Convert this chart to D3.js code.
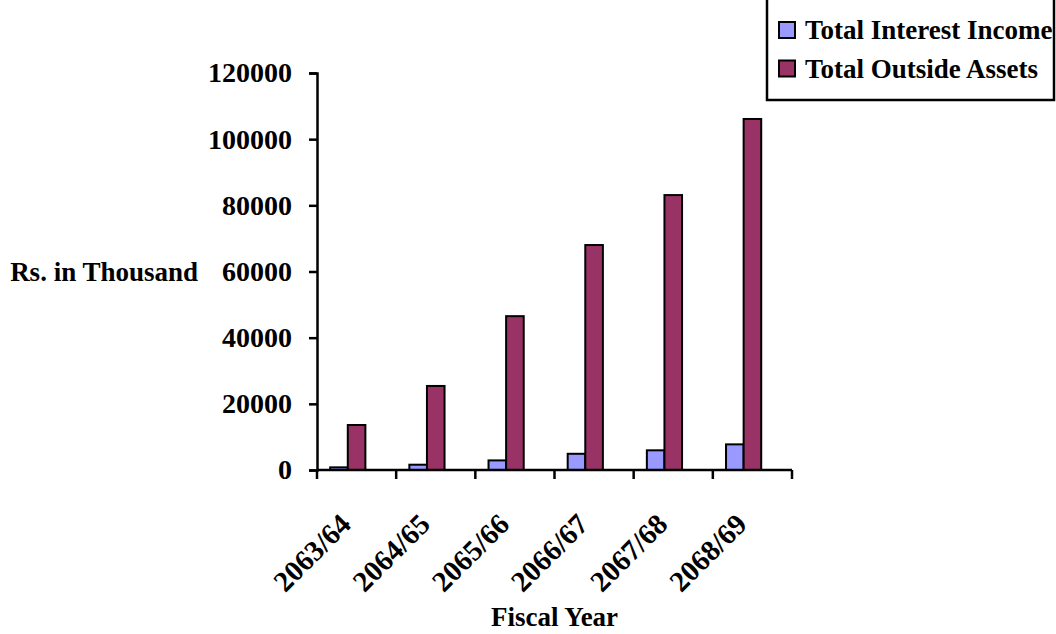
<!DOCTYPE html>
<html>
<head>
<meta charset="utf-8">
<script src="https://cdn.jsdelivr.net/npm/d3@7"></script>
<style>
  html, body { margin: 0; padding: 0; background: #fff; }
  svg { display: block; }
  text { font-family: "Liberation Serif", "Times New Roman", serif; font-weight: bold; fill: #000; }
</style>
</head>
<body>
<svg id="chart" width="1056" height="634"></svg>
<script>
// Fiscal years and the two series (Rs. in thousand)
const fiscalYears = ["2063/64", "2064/65", "2065/66", "2066/67", "2067/68", "2068/69"];
const seriesNames = ["Total Interest Income", "Total Outside Assets"];
const interestIncome = [800, 1600, 2900, 4900, 5950, 7750];
const outsideAssets = [13600, 25400, 46500, 68000, 83100, 106100];
const seriesColors = ["#9999FF", "#993366"];
const yTicks = [0, 20000, 40000, 60000, 80000, 100000, 120000];

const seriesValues = [interestIncome, outsideAssets];

const svg = d3.select("#chart");
const plot = { left: 317, right: 792, top: 73, bottom: 470 };
const fontSize = 27;

const x0 = d3.scaleBand()
  .domain(fiscalYears)
  .range([plot.left, plot.right])
  .paddingInner(0).paddingOuter(0);

// each cluster keeps room for three bars; only the first two slots are filled
const x1 = d3.scaleBand()
  .domain([0, 1, 2])
  .range([0, x0.bandwidth()])
  .paddingInner(0)
  .paddingOuter(0.75);

const y = d3.scaleLinear()
  .domain([0, 120000])
  .range([plot.bottom, plot.top]);

// bars
seriesValues.forEach((vals, si) => {
  svg.append("g")
    .selectAll("rect")
    .data(vals)
    .join("rect")
    .attr("x", (d, i) => x0(fiscalYears[i]) + x1(si))
    .attr("y", d => y(d))
    .attr("width", x1.bandwidth())
    .attr("height", d => y(0) - y(d))
    .attr("fill", seriesColors[si])
    .attr("stroke", "#000")
    .attr("stroke-width", 2);
});

// y axis
const yAxis = svg.append("g")
  .attr("transform", `translate(${plot.left},0)`)
  .call(d3.axisLeft(y).tickValues(yTicks).tickSize(8).tickPadding(17).tickFormat(d3.format("d")));
yAxis.select(".domain").attr("stroke", "#000").attr("stroke-width", 2.5);
yAxis.selectAll(".tick line").attr("stroke", "#000").attr("stroke-width", 2.5);
yAxis.selectAll(".tick text")
  .attr("font-family", "Liberation Serif")
  .attr("font-weight", "bold")
  .attr("font-size", 28)
  .attr("fill", "#000");

// x axis: ticks at band boundaries
const xAxisG = svg.append("g");
xAxisG.append("line")
  .attr("x1", plot.left).attr("x2", plot.right)
  .attr("y1", y(0)).attr("y2", y(0))
  .attr("stroke", "#000").attr("stroke-width", 2.5);
const bounds = fiscalYears.map(f => x0(f)).concat([plot.right]);
xAxisG.selectAll("line.tick")
  .data(bounds)
  .join("line")
  .attr("class", "tick")
  .attr("x1", d => d).attr("x2", d => d)
  .attr("y1", y(0)).attr("y2", y(0) + 9)
  .attr("stroke", "#000").attr("stroke-width", 2.5);

xAxisG.selectAll("text")
  .data(fiscalYears)
  .join("text")
  .attr("transform", d => `translate(${x0(d) + x0.bandwidth() / 2 - 4},${y(0) + 56}) rotate(-45)`)
  .attr("text-anchor", "end")
  .attr("font-size", 29)
  .text(d => d);

// axis titles
svg.append("text")
  .attr("x", (plot.left + plot.right) / 2)
  .attr("y", 626)
  .attr("text-anchor", "middle")
  .attr("font-size", fontSize)
  .text("Fiscal Year");

svg.append("text")
  .attr("x", 198)
  .attr("y", y(60000) + 9)
  .attr("text-anchor", "end")
  .attr("font-size", fontSize)
  .text("Rs. in Thousand");

// legend
const legend = svg.append("g");
legend.append("rect")
  .attr("x", 767).attr("y", -2)
  .attr("width", 287).attr("height", 102)
  .attr("fill", "#fff")
  .attr("stroke", "#000").attr("stroke-width", 2.5);
seriesNames.forEach((name, i) => {
  const cy = 30 + i * 38.5;
  legend.append("rect")
    .attr("x", 779).attr("y", cy - 8)
    .attr("width", 16).attr("height", 16)
    .attr("fill", seriesColors[i])
    .attr("stroke", "#000").attr("stroke-width", 2);
  legend.append("text")
    .attr("x", 805).attr("y", cy + 9)
    .attr("font-size", fontSize)
    .text(name);
});
</script>
</body>
</html>
